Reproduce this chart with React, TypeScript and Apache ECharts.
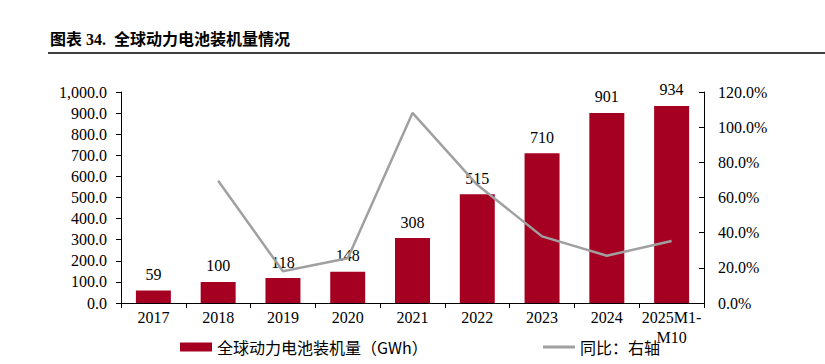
import React, { useEffect, useRef } from "react";
import * as echarts from "echarts";

const categories = ["2017", "2018", "2019", "2020", "2021", "2022", "2023", "2024", "2025M1-\nM10"];
const installed = [59, 100, 118, 148, 308, 515, 710, 901, 934];
const yoy = [null, 69.5, 18.0, 25.4, 108.1, 67.2, 37.9, 26.9, 35.3];
const barName = "全球动力电池装机量（GWh）";
const lineName = "同比：右轴";
const titleText = "图表 34.  全球动力电池装机量情况";

const SERIF = "'Liberation Serif', 'Times New Roman', 'Noto Sans CJK SC', serif";
const CJK = "'Noto Sans CJK SC', 'Liberation Serif', sans-serif";

export default function App() {
  const ref = useRef<HTMLDivElement>(null);
  useEffect(() => {
    if (!ref.current) return;
    const chart = echarts.init(ref.current, undefined, { renderer: "svg" });
    chart.setOption({
      animation: false,
      backgroundColor: "#ffffff",
      graphic: [
        {
          type: "text",
          left: 50,
          top: 31,
          style: {
            text: titleText,
            font: "bold 16px " + SERIF,
            fill: "#000",
          },
        },
        {
          type: "line",
          shape: { x1: 48, y1: 53, x2: 825, y2: 53 },
          style: { stroke: "#000", lineWidth: 1.5 },
        },
      ],
      grid: { left: 121, right: 121, top: 92, bottom: 61 },
      legend: [
        {
          left: 175,
          top: 334,
          itemWidth: 32,
          itemHeight: 9,
          itemGap: 4,
          data: [{ name: barName, icon: "rect" }],
          textStyle: { fontSize: 16, fontFamily: CJK, color: "#000" },
        },
        {
          left: 538,
          top: 334,
          itemWidth: 32,
          itemHeight: 3,
          data: [{ name: lineName, icon: "rect" }],
          textStyle: { fontSize: 16, fontFamily: CJK, color: "#000" },
        },
      ],
      xAxis: {
        type: "category",
        data: categories,
        axisLine: { lineStyle: { color: "#000", width: 1 } },
        axisTick: { show: true, length: 5, alignWithLabel: false, lineStyle: { color: "#000" } },
        axisLabel: {
          color: "#000",
          fontSize: 16,
          fontFamily: SERIF,
          lineHeight: 20,
          margin: 4,
          interval: 0,
        },
      },
      yAxis: [
        {
          type: "value",
          min: 0,
          max: 1000,
          interval: 100,
          splitLine: { show: false },
          axisLine: { show: true, lineStyle: { color: "#000" } },
          axisTick: { show: true, length: 5, lineStyle: { color: "#000" } },
          axisLabel: {
            color: "#000",
            fontSize: 16,
            fontFamily: SERIF,
            margin: 14,
            formatter: (v: number) =>
              v.toLocaleString("en-US", { minimumFractionDigits: 1, maximumFractionDigits: 1 }),
          },
        },
        {
          type: "value",
          min: 0,
          max: 120,
          interval: 20,
          position: "right",
          splitLine: { show: false },
          axisLine: { show: true, lineStyle: { color: "#000" } },
          axisTick: { show: true, inside: true, length: 5, lineStyle: { color: "#000" } },
          axisLabel: {
            color: "#000",
            fontSize: 16,
            fontFamily: SERIF,
            margin: 14,
            formatter: (v: number) => v.toFixed(1) + "%",
          },
        },
      ],
      series: [
        {
          name: barName,
          type: "bar",
          data: installed,
          barWidth: "54%",
          itemStyle: { color: "#A50021" },
          label: {
            show: true,
            position: "top",
            distance: 8,
            color: "#000",
            fontSize: 16,
            fontFamily: SERIF,
          },
        },
        {
          name: lineName,
          type: "line",
          yAxisIndex: 1,
          data: yoy,
          symbol: "none",
          connectNulls: false,
          lineStyle: { color: "#A0A0A0", width: 2.5 },
          itemStyle: { color: "#A0A0A0" },
          z: 3,
        },
      ],
    });
    return () => chart.dispose();
  }, []);
  return (
    <div
      ref={ref}
      style={{ position: "fixed", left: 0, top: 0, width: 825, height: 364 }}
    />
  );
}
